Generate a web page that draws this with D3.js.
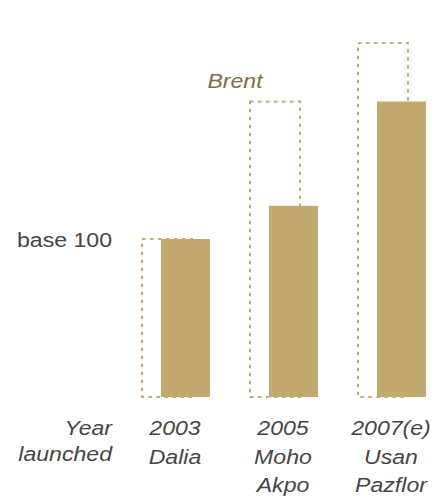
<!DOCTYPE html>
<html>
<head>
<meta charset="utf-8">
<script src="https://cdn.jsdelivr.net/npm/d3@7/dist/d3.min.js"></script>
<style>
  html, body { margin: 0; padding: 0; background: #ffffff; }
  svg { display: block; }
  text { font-family: "Liberation Sans", Arial, sans-serif; }
</style>
</head>
<body>
<svg id="chart" width="436" height="497"></svg>
<script>
// Launch years and field names for each project
const categories = ["2003", "2005", "2007(e)"];
const fieldNames = [["Dalia"], ["Moho", "Akpo"], ["Usan", "Pazflor"]];
// Development cost index (base 100 in 2003)
const costIndex = [100, 121, 187];
// Brent price index over the same years (base 100 in 2003)
const brentIndex = [100, 187, 224];
// Axis-side captions
const baseLabel = "base 100";
const baseValue = 100;
const axisTitle = ["Year", "launched"];
const brentLabel = "Brent";

const gold = "#c1a970";
const goldDark = "#806c46";
const textGrey = "#464646";
const stretch = 1.1;

const svg = d3.select("#chart");

const x = d3.scaleBand()
  .domain(categories)
  .range([142, 142 + 108 * categories.length])
  .paddingInner(0)
  .paddingOuter(0);

const y = d3.scaleLinear()
  .domain([0, 250])
  .range([397, 2]);

const boxW = 50;
const barOffset = 19;
const barW = 49;

const rows = categories.map((c, i) => ({
  cat: c, names: fieldNames[i], cost: costIndex[i], brent: brentIndex[i]
}));

// Brent index: dotted outline boxes behind the bars
svg.append("g")
  .selectAll("rect")
  .data(rows)
  .join("rect")
  .attr("x", d => x(d.cat))
  .attr("y", d => y(d.brent))
  .attr("width", boxW)
  .attr("height", d => y(0) - y(d.brent))
  .attr("fill", "none")
  .attr("stroke", gold)
  .attr("stroke-width", 2)
  .attr("stroke-dasharray", "3.5,4.5");

// Cost index: solid bars
svg.append("g")
  .selectAll("rect")
  .data(rows)
  .join("rect")
  .attr("x", d => x(d.cat) + barOffset)
  .attr("y", d => y(d.cost))
  .attr("width", barW)
  .attr("height", d => y(0) - y(d.cost))
  .attr("fill", gold);

function stretchedText(sel, tx, ty) {
  return sel.attr("transform", `translate(${tx},${ty}) scale(${stretch},1)`);
}

// "Brent" caption
stretchedText(svg.append("text"), x(categories[1]) - 15, y(brentIndex[1]) - 14)
  .attr("text-anchor", "middle")
  .attr("font-size", 21)
  .attr("font-style", "italic")
  .attr("fill", goldDark)
  .text(brentLabel);

// base 100 marker
stretchedText(svg.append("text"), 112, y(baseValue) + 8)
  .attr("text-anchor", "end")
  .attr("font-size", 21)
  .attr("fill", textGrey)
  .text(baseLabel);

// Axis title
axisTitle.forEach((t, i) => {
  stretchedText(svg.append("text"), 112, 435 + i * 26)
    .attr("text-anchor", "end")
    .attr("font-size", 21)
    .attr("font-style", "italic")
    .attr("fill", textGrey)
    .text(t);
});

// Category labels: year then field names
rows.forEach(d => {
  const cx = x(d.cat) + (barOffset + barW) / 2 - 1;
  [d.cat].concat(d.names).forEach((t, i) => {
    stretchedText(svg.append("text"), cx, 435 + i * 28.5)
      .attr("text-anchor", "middle")
      .attr("font-size", 21)
      .attr("font-style", "italic")
      .attr("fill", textGrey)
      .text(t);
  });
});
</script>
</body>
</html>
